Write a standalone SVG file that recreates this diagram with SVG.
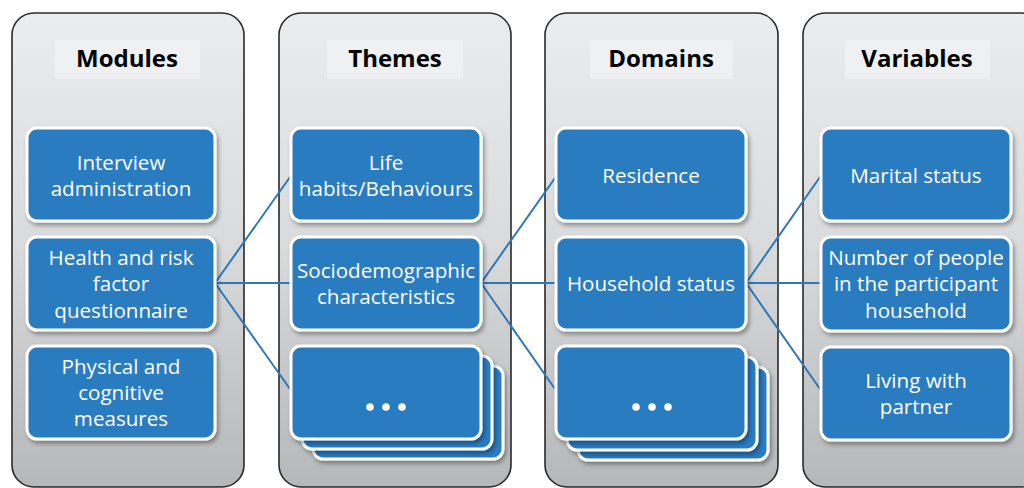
<svg xmlns="http://www.w3.org/2000/svg" width="1024" height="488" viewBox="0 0 1024 488">
<defs>
<linearGradient id="pg" x1="0" y1="0" x2="0" y2="1">
<stop offset="0" stop-color="#ebecee"/>
<stop offset="0.5" stop-color="#d9dadc"/>
<stop offset="1" stop-color="#b6b7b9"/>
</linearGradient>
<filter id="sh" x="-10%" y="-10%" width="130%" height="140%">
<feDropShadow dx="2" dy="3" stdDeviation="2" flood-color="#000" flood-opacity="0.35"/>
</filter>
<style>
.panel{fill:url(#pg);stroke:#2a2a2a;stroke-width:1.6}
.hdr{fill:#eff0f2}
.title{font-family:"Open Sans",Lato,sans-serif;font-weight:bold;font-size:24px;fill:#000;text-anchor:middle}
.box{fill:#2b7cc1;stroke:#fff;stroke-width:3;filter:url(#sh)}
.t{font-family:"Open Sans",Lato,sans-serif;font-size:20.6px;fill:#fff;text-anchor:middle;dominant-baseline:central}
.dot{fill:#fff}
.conn{stroke:#2e78b8;stroke-width:2;fill:none}
</style>
</defs>
<g id="panels">
<rect class="panel" x="12" y="13" width="232" height="474" rx="22"/>
<rect class="hdr" x="55" y="40" width="145" height="39"/>
<text class="title" x="127" y="67">Modules</text>
<rect class="panel" x="279" y="13" width="232" height="474" rx="22"/>
<rect class="hdr" x="327" y="40" width="136" height="39"/>
<text class="title" x="395" y="67">Themes</text>
<rect class="panel" x="545" y="13" width="233" height="474" rx="22"/>
<rect class="hdr" x="590" y="40" width="143" height="39"/>
<text class="title" x="661" y="67">Domains</text>
<rect class="panel" x="803" y="13" width="240" height="474" rx="22"/>
<rect class="hdr" x="845" y="40" width="145" height="39"/>
<text class="title" x="917" y="67">Variables</text>
</g>
<g id="connectors">
<path class="conn" d="M215 283 L290 177 M215 283 L290 283 M215 283 L290 389"/>
<path class="conn" d="M481 283 L555 178 M481 283 L555 283 M481 283 L555 389"/>
<path class="conn" d="M746 283 L820 177 M746 283 L820 283 M746 283 L820 389"/>
</g>
<g id="m1"><rect class="box" x="27" y="128" width="188" height="93" rx="10"/><text class="t" x="121" y="162">Interview</text><text class="t" x="121" y="188">administration</text></g>
<g id="m2"><rect class="box" x="27" y="237" width="188" height="93" rx="10"/><text class="t" x="121" y="257">Health and risk</text><text class="t" x="121" y="283">factor</text><text class="t" x="121" y="310">questionnaire</text></g>
<g id="m3"><rect class="box" x="27" y="346" width="188" height="93" rx="10"/><text class="t" x="121" y="366">Physical and</text><text class="t" x="121" y="392">cognitive</text><text class="t" x="121" y="418">measures</text></g>
<g id="t1"><rect class="box" x="291" y="128" width="190" height="93" rx="10"/><text class="t" x="386" y="162">Life</text><text class="t" x="386" y="188">habits/Behaviours</text></g>
<g id="t2"><rect class="box" x="291" y="237" width="190" height="93" rx="10"/><text class="t" x="386" y="270">Sociodemographic</text><text class="t" x="386" y="296">characteristics</text></g>
<g id="t3"><rect class="box" x="313" y="366" width="190" height="93" rx="10"/><rect class="box" x="302" y="356" width="190" height="93" rx="10"/><rect class="box" x="291" y="346" width="190" height="93" rx="10"/><circle class="dot" cx="370" cy="407" r="3.8"/><circle class="dot" cx="386" cy="407" r="3.8"/><circle class="dot" cx="402" cy="407" r="3.8"/></g>
<g id="d1"><rect class="box" x="556" y="128" width="190" height="93" rx="10"/><text class="t" x="651" y="175">Residence</text></g>
<g id="d2"><rect class="box" x="556" y="237" width="190" height="93" rx="10"/><text class="t" x="651" y="283">Household status</text></g>
<g id="d3"><rect class="box" x="578" y="367" width="190" height="93" rx="10"/><rect class="box" x="567" y="357" width="190" height="93" rx="10"/><rect class="box" x="556" y="346" width="190" height="93" rx="10"/><circle class="dot" cx="636" cy="407" r="3.8"/><circle class="dot" cx="652" cy="407" r="3.8"/><circle class="dot" cx="668" cy="407" r="3.8"/></g>
<g id="v1"><rect class="box" x="821" y="128" width="190" height="93" rx="10"/><text class="t" x="916" y="175">Marital status</text></g>
<g id="v2"><rect class="box" x="821" y="237" width="190" height="94" rx="10"/><text class="t" x="916" y="257">Number of people</text><text class="t" x="916" y="283">in the participant</text><text class="t" x="916" y="310">household</text></g>
<g id="v3"><rect class="box" x="821" y="347" width="190" height="93" rx="10"/><text class="t" x="916" y="380">Living with</text><text class="t" x="916" y="406">partner</text></g>
</svg>
